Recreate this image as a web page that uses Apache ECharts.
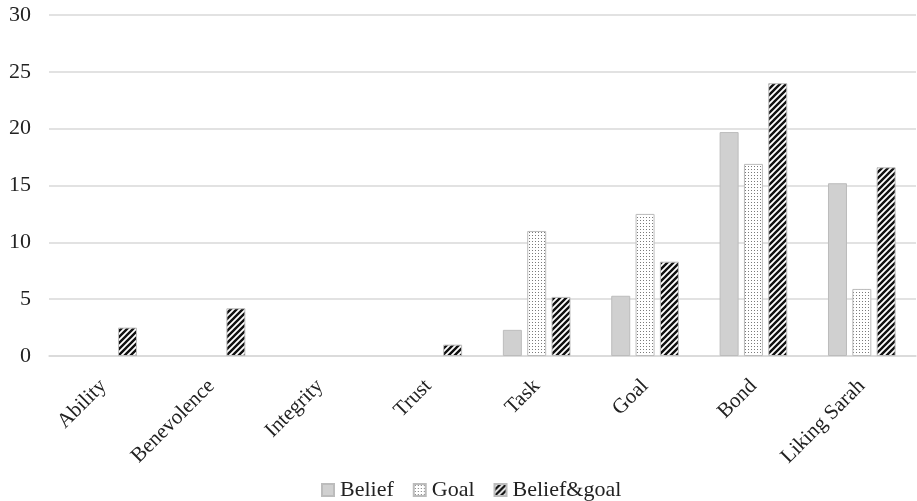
<!DOCTYPE html>
<html>
<head>
<meta charset="utf-8">
<script src="https://cdn.jsdelivr.net/npm/echarts@6/dist/echarts.min.js"></script>
<style>
html,body{margin:0;padding:0;background:#fff;}
#chart{width:917px;height:501px;}
</style>
</head>
<body>
<div id="chart"></div>
<script>
var categories = ['Ability', 'Benevolence', 'Integrity', 'Trust', 'Task', 'Goal', 'Bond', 'Liking Sarah'];
var seriesNames = ['Belief', 'Goal', 'Belief&goal'];
var beliefValues = [null, null, null, null, 2.3, 5.3, 19.7, 15.2];
var goalValues = [null, null, null, null, 11.0, 12.5, 16.9, 5.9];
var beliefGoalValues = [2.5, 4.2, null, 1.0, 5.2, 8.3, 24.0, 16.6];
var yTicks = [0, 5, 10, 15, 20, 25, 30];

function dotPattern() {
  var c = document.createElement('canvas');
  c.width = 3; c.height = 3;
  var g = c.getContext('2d');
  g.fillStyle = '#ffffff'; g.fillRect(0, 0, 3, 3);
  g.fillStyle = '#7a7a7a'; g.fillRect(1, 1, 1, 1);
  return c;
}
function stripePattern() {
  var s = 6;
  var c = document.createElement('canvas');
  c.width = s; c.height = s;
  var g = c.getContext('2d');
  g.fillStyle = '#ffffff'; g.fillRect(0, 0, s, s);
  g.strokeStyle = '#111111'; g.lineWidth = 2.4;
  g.beginPath();
  g.moveTo(-1, s + 1); g.lineTo(s + 1, -1);
  g.moveTo(-1, 1); g.lineTo(1, -1);
  g.moveTo(s - 1, s + 1); g.lineTo(s + 1, s - 1);
  g.stroke();
  return c;
}

var chart = echarts.init(document.getElementById('chart'));
var font = '"Liberation Serif", "Times New Roman", serif';
var barW = 19;
chart.setOption({
  animation: false,
  backgroundColor: '#ffffff',
  textStyle: { fontFamily: font },
  grid: { left: 49, right: 1, top: 15, bottom: 145, containLabel: false },
  legend: {
    top: 474,
    left: 316,
    itemWidth: 12,
    itemHeight: 12,
    itemGap: 19,
    icon: 'rect',
    data: seriesNames,
    textStyle: { fontFamily: font, fontSize: 22, color: '#222', padding: [0, 0, 0, 1] }
  },
  xAxis: {
    type: 'category',
    data: categories,
    axisLine: { lineStyle: { color: '#d9d9d9', width: 1.5 } },
    axisTick: { show: false },
    axisLabel: { rotate: 45, fontFamily: font, fontSize: 21, color: '#222', margin: 27, interval: 0 }
  },
  yAxis: {
    type: 'value',
    min: yTicks[0],
    max: yTicks[yTicks.length - 1],
    interval: yTicks[1] - yTicks[0],
    axisLine: { show: false },
    axisTick: { show: false },
    splitLine: { lineStyle: { color: '#d9d9d9', width: 1.5 } },
    axisLabel: { fontFamily: font, fontSize: 22, color: '#222', margin: 18 }
  },
  series: [
    {
      name: seriesNames[0], type: 'bar', data: beliefValues, barWidth: barW, barGap: '28%',
      itemStyle: { color: '#d0d0d0', borderColor: '#bcbcbc', borderWidth: 1 }
    },
    {
      name: seriesNames[1], type: 'bar', data: goalValues, barWidth: barW, barGap: '28%',
      itemStyle: { color: { image: dotPattern(), repeat: 'repeat' }, borderColor: '#bcbcbc', borderWidth: 1 }
    },
    {
      name: seriesNames[2], type: 'bar', data: beliefGoalValues, barWidth: barW, barGap: '28%',
      itemStyle: { color: { image: stripePattern(), repeat: 'repeat' }, borderColor: '#bcbcbc', borderWidth: 1 }
    }
  ]
});
</script>
</body>
</html>
